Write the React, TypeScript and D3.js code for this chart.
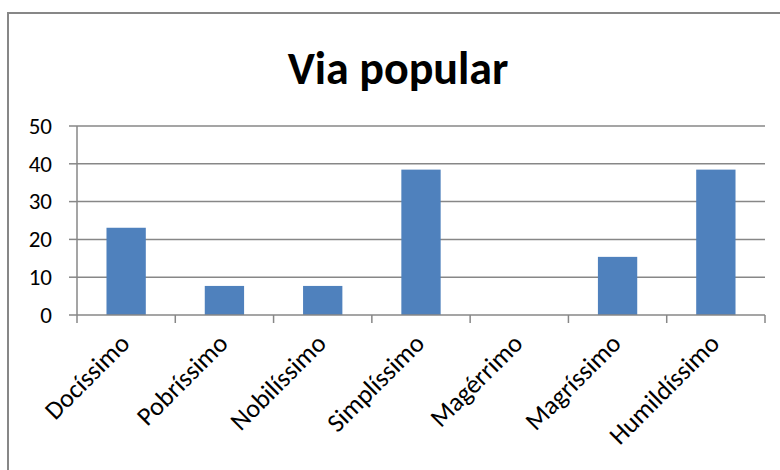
import React from "react";
import * as d3 from "d3";

const categories = ["Docíssimo", "Pobríssimo", "Nobilíssimo", "Simplíssimo", "Magérrimo", "Magríssimo", "Humildíssimo"];
const values = [23.08, 7.69, 7.69, 38.46, 0, 15.38, 38.46];
const yTicks = [0, 10, 20, 30, 40, 50];
const title = "Via popular";

const W = 780;
const H = 470;
const plot = { left: 77, right: 765, top: 126, bottom: 315 };
const FONT = "Carlito, Lato, 'Open Sans', sans-serif";
const GRAY = "#878787";

export default function App() {
  const x = d3
    .scaleBand<string>()
    .domain(categories)
    .range([plot.left, plot.right])
    .paddingInner(0.6)
    .paddingOuter(0.3);
  const y = d3.scaleLinear().domain([0, 50]).range([plot.bottom, plot.top]);
  const step = x.step();
  const bounds = d3.range(categories.length + 1).map((i) => plot.left + i * step);

  return (
    <svg
      width={W}
      height={H}
      style={{ position: "absolute", left: 0, top: 0, background: "#fff" }}
      fontFamily={FONT}
    >
      <rect x={0} y={0} width={W} height={H} fill="#fff" />
      <rect x={8} y={13} width={W + 20} height={H + 20} fill="none" stroke={GRAY} strokeWidth={2} />
      <text x={398} y={84} textAnchor="middle" fontWeight="bold" fontSize={46} fill="#000">
        {title}
      </text>
      {yTicks.map((t) => (
        <g key={t}>
          {t > 0 && (
            <line x1={plot.left} x2={plot.right} y1={y(t)} y2={y(t)} stroke={GRAY} strokeWidth={1.5} />
          )}
          <line x1={plot.left - 8} x2={plot.left} y1={y(t)} y2={y(t)} stroke={GRAY} strokeWidth={1.5} />
          <text x={52} y={y(t)} dy="0.34em" textAnchor="end" fontSize={23} fill="#000">
            {t}
          </text>
        </g>
      ))}
      {categories.map((c, i) => (
        <rect key={c} x={x(c)} y={y(values[i])} width={x.bandwidth()} height={y(0) - y(values[i])} fill="#4F81BD" />
      ))}
      <line x1={plot.left} x2={plot.left} y1={plot.top} y2={plot.bottom} stroke={GRAY} strokeWidth={1.5} />
      <line x1={plot.left} x2={plot.right} y1={plot.bottom} y2={plot.bottom} stroke={GRAY} strokeWidth={1.5} />
      {bounds.map((bx, i) => (
        <line key={i} x1={bx} x2={bx} y1={plot.bottom} y2={plot.bottom + 8} stroke={GRAY} strokeWidth={1.5} />
      ))}
      {categories.map((c) => {
        const cx = (x(c) as number) + x.bandwidth() / 2;
        return (
          <text
            key={c}
            transform={`translate(${cx + 5},${345}) rotate(-45)`}
            textAnchor="end"
            fontSize={26}
            fill="#000"
          >
            {c}
          </text>
        );
      })}
    </svg>
  );
}
